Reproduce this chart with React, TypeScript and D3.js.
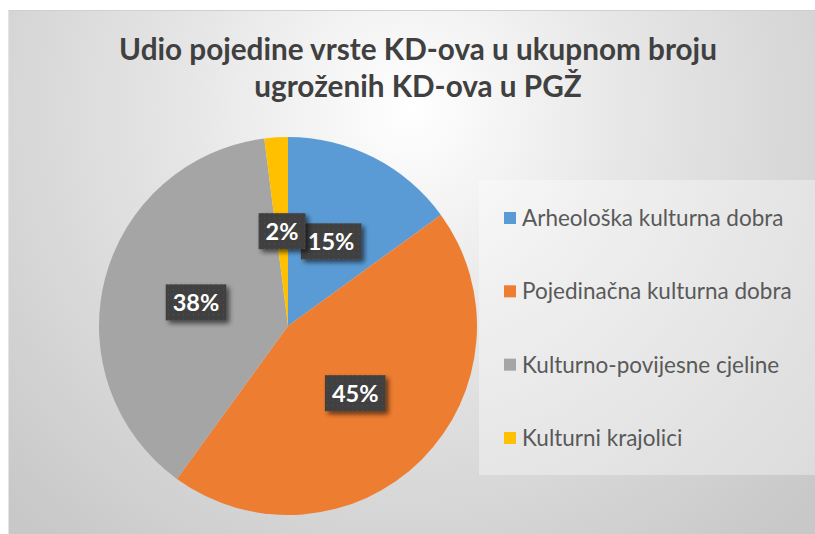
import React, { useEffect, useRef } from "react";
import * as d3 from "d3";

const categories = [
  "Arheološka kulturna dobra",
  "Pojedinačna kulturna dobra",
  "Kulturno-povijesne cjeline",
  "Kulturni krajolici",
];
const values = [15, 45, 38, 2];
const colors = ["#5b9bd5", "#ed7d31", "#a5a5a5", "#ffc000"];
const titleLines = ["Udio pojedine vrste KD-ova u ukupnom broju", "ugroženih KD-ova u PGŽ"];

const W = 815;
const H = 534;
const FONT = "Lato, 'Open Sans', sans-serif";

export default function App() {
  const ref = useRef<SVGSVGElement | null>(null);

  useEffect(() => {
    const svg = d3.select(ref.current);
    svg.selectAll("*").remove();

    const defs = svg.append("defs");
    const grad = defs
      .append("radialGradient")
      .attr("id", "bg")
      .attr("gradientUnits", "userSpaceOnUse")
      .attr("cx", 410)
      .attr("cy", 110)
      .attr("r", 560);
    grad.append("stop").attr("offset", "0%").attr("stop-color", "#ffffff");
    grad.append("stop").attr("offset", "40%").attr("stop-color", "#e6e6e6");
    grad.append("stop").attr("offset", "100%").attr("stop-color", "#c8c8c8");

    const sh = defs.append("filter").attr("id", "sh").attr("x", "-30%").attr("y", "-30%").attr("width", "170%").attr("height", "170%");
    sh.append("feGaussianBlur").attr("in", "SourceAlpha").attr("stdDeviation", 2.5).attr("result", "b");
    sh.append("feOffset").attr("in", "b").attr("dx", 3).attr("dy", 3).attr("result", "o");
    sh.append("feComponentTransfer").attr("in", "o").attr("result", "o2")
      .append("feFuncA").attr("type", "linear").attr("slope", 0.6);
    const m = sh.append("feMerge");
    m.append("feMergeNode").attr("in", "o2");
    m.append("feMergeNode").attr("in", "SourceGraphic");

    const pat = defs.append("pattern").attr("id", "dots").attr("patternUnits", "userSpaceOnUse").attr("width", 5).attr("height", 5);
    pat.append("rect").attr("width", 5).attr("height", 5).attr("fill", "#3f3f3f");
    pat.append("rect").attr("x", 2).attr("y", 2).attr("width", 1).attr("height", 1).attr("fill", "#555555");

    svg.append("rect").attr("width", W).attr("height", H).attr("fill", "#ffffff");
    svg.append("rect").attr("x", 8).attr("y", 10.5).attr("width", W).attr("height", H).attr("fill", "url(#bg)");
    svg.append("line").attr("x1", 8).attr("x2", W).attr("y1", 10.5).attr("y2", 10.5).attr("stroke", "#d0d0d0");
    svg.append("line").attr("x1", 8.5).attr("x2", 8.5).attr("y1", 10).attr("y2", H).attr("stroke", "#e4e4e4");

    // title
    const title = svg.append("text").attr("text-anchor", "middle").attr("font-family", FONT)
      .attr("font-weight", 700).attr("font-size", 29.7).attr("fill", "#404040");
    titleLines.forEach((t, i) => {
      title.append("tspan").attr("x", 418).attr("y", 60 + i * 37).text(t);
    });

    // legend box
    svg.append("rect").attr("x", 479).attr("y", 180).attr("width", 340).attr("height", 295)
      .attr("fill", "#ffffff").attr("fill-opacity", 0.35);

    const legendY = d3.scalePoint<string>().domain(categories).range([218, 438]);
    const lg = svg.append("g");
    categories.forEach((c, i) => {
      const y = legendY(c) as number;
      lg.append("rect").attr("x", 504).attr("y", y - 6).attr("width", 12).attr("height", 12).attr("fill", colors[i]);
      lg.append("text").attr("x", 522).attr("y", y).attr("dy", "0.35em").attr("font-family", FONT)
        .attr("font-size", 22.5).attr("fill", "#595959").text(c);
    });

    // pie
    const cx = 288, cy = 326, r = 189;
    const pie = d3.pie<number>().sort(null).value((d) => d);
    const arcs = pie(values);
    const arc = d3.arc<d3.PieArcDatum<number>>().innerRadius(0).outerRadius(r);
    const labelArc = d3.arc<d3.PieArcDatum<number>>().innerRadius(190).outerRadius(0);
    const total = d3.sum(values);
    const g = svg.append("g").attr("transform", `translate(${cx},${cy})`);
    g.selectAll("path").data(arcs).join("path").attr("d", arc).attr("fill", (_, i) => colors[i]);

    arcs.forEach((a) => {
      const [x, y] = labelArc.centroid(a);
      const txt = `${Math.round((a.data / total) * 100)}%`;
      const lgp = g.append("g").attr("transform", `translate(${x},${y})`);
      const box = lgp.append("rect").attr("fill", "url(#dots)").attr("filter", "url(#sh)");
      const t = lgp.append("text").attr("text-anchor", "middle").attr("dy", "0.36em")
        .attr("font-family", FONT).attr("font-weight", 700).attr("font-size", 23.5).attr("fill", "#ffffff").text(txt);
      const w = (t.node() as SVGTextElement).getComputedTextLength() + 14;
      box.attr("x", -w / 2).attr("y", -18).attr("width", w).attr("height", 36);
    });
  }, []);

  return (
    <div style={{ position: "absolute", left: 0, top: 0 }}>
      <svg ref={ref} width={W} height={H} style={{ display: "block" }} />
    </div>
  );
}
